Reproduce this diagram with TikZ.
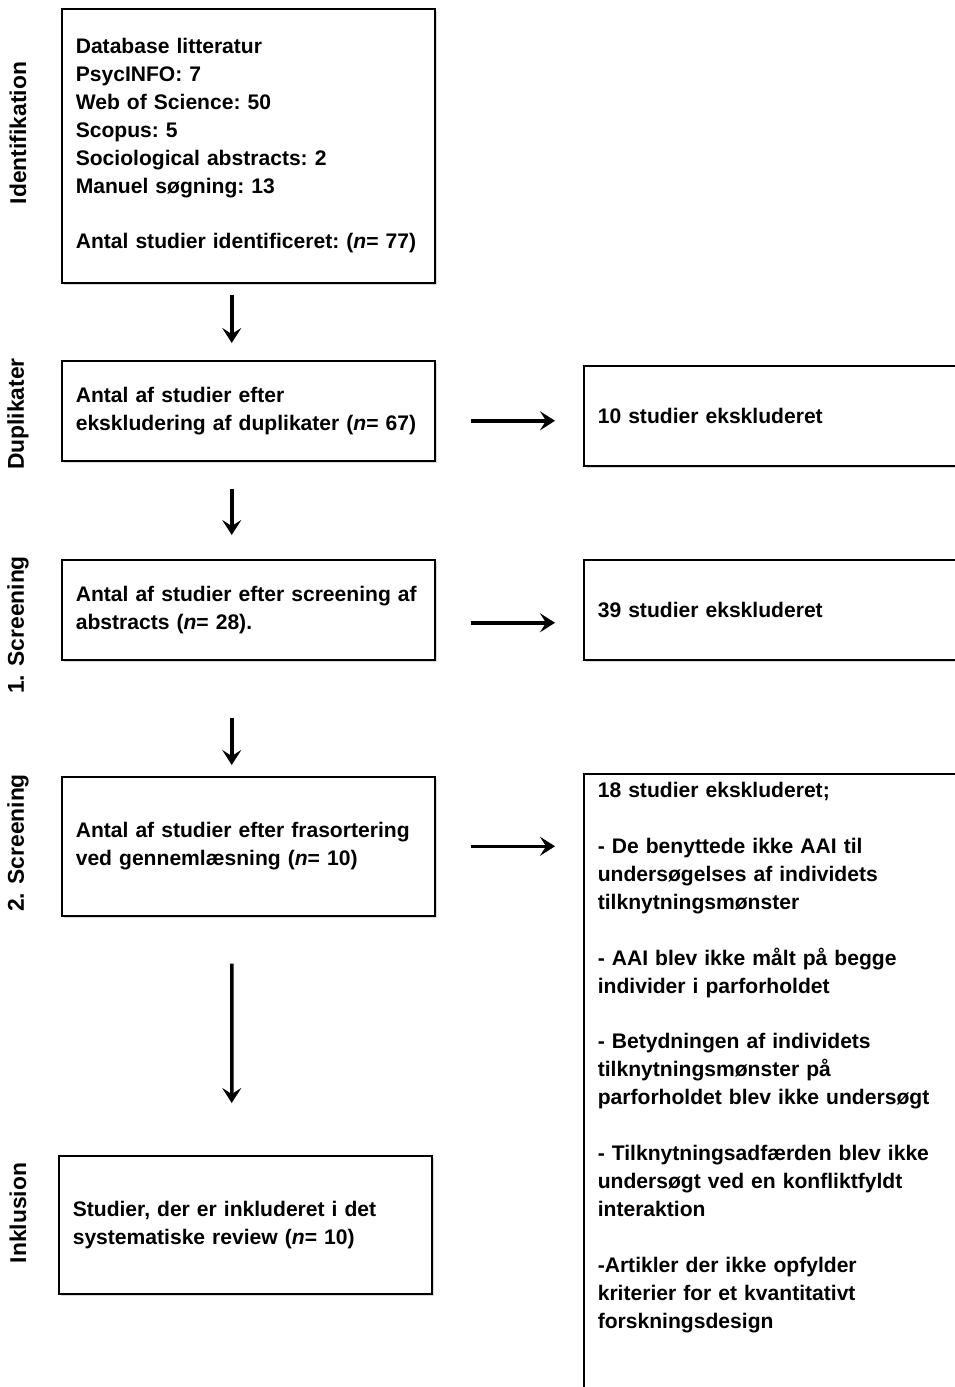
\documentclass[tikz,border=0pt]{standalone}
\usepackage{fontspec}
\setmainfont{Liberation Sans}
\usetikzlibrary{shadows,arrows.meta}

\tikzset{
  flowbox/.style={draw, line width=0.9pt, fill=white, align=left, anchor=north west,
    inner xsep=0.28cm, text width=6.9cm, font=\fontsize{12}{15.9}\selectfont\bfseries\frenchspacing,
    drop shadow={shadow xshift=1.2pt, shadow yshift=-1.2pt, opacity=0.3}},
  exbox/.style={flowbox, inner xsep=0.28cm, text width=7.4cm},
  phase/.style={rotate=90, font=\fontsize{13}{15}\selectfont\bfseries},
  arr/.style={-{Stealth[length=0.3cm, width=0.38cm, inset=0.12cm]}, line width=2pt},
}

\begin{document}
\begin{tikzpicture}[x=0.02cm, y=-0.02cm]
\useasboundingbox (0,0) rectangle (954,1387);

% phases
\node[phase] (lident) at (18,133) {Identifikation};
\node[phase] (ldup) at (18,414) {Duplikater};
\node[phase] (lscr1) at (18,625) {1. Screening};
\node[phase] (lscr2) at (18,843) {2. Screening};
\node[phase] (lincl) at (18,1213) {Inklusion};

% main column
\node[flowbox, minimum height=5.48cm] (ident) at (61,8) {Database litteratur\\ PsycINFO: 7\\ Web of Science: 50\\ Scopus: 5\\ Sociological abstracts: 2\\ Manuel søgning: 13\\[\baselineskip] Antal studier identificeret: (\textit{n}=~77)};
\node[flowbox, minimum height=2cm] (dup) at (61,360) {Antal af studier efter\\ ekskludering af duplikater (\textit{n}= 67)};
\node[flowbox, minimum height=2cm] (scr1) at (61,559) {Antal af studier efter screening af\\ abstracts (\textit{n}= 28).};
\node[flowbox, minimum height=2.78cm] (scr2) at (61,776) {Antal af studier efter frasortering\\ ved gennemlæsning (\textit{n}= 10)};
\node[flowbox, minimum height=2.76cm] (incl) at (58,1155) {Studier, der er inkluderet i det\\ systematiske review (\textit{n}= 10)};

% excluded
\node[exbox, minimum height=2cm] (ex1) at (583,365) {10 studier ekskluderet};
\node[exbox, minimum height=2cm] (ex2) at (583,559) {39 studier ekskluderet};
\node[exbox, inner ysep=0.17cm, text depth=13cm] (ex3) at (583,773) {18 studier ekskluderet;\\[\baselineskip]
- De benyttede ikke AAI til\\ undersøgelses af individets\\ tilknytningsmønster\\[\baselineskip]
- AAI blev ikke målt på begge\\ individer i parforholdet\\[\baselineskip]
- Betydningen af individets\\ tilknytningsmønster på\\ parforholdet blev ikke undersøgt\\[\baselineskip]
- Tilknytningsadfærden blev ikke\\ undersøgt ved en konfliktfyldt\\ interaktion\\[\baselineskip]
-Artikler der ikke opfylder\\ kriterier for et kvantitativt\\ forskningsdesign};

% arrows down
\draw[arr, shorten <=0.22cm, shorten >=0.34cm] ([xshift=-0.33cm]ident.south) -- ([xshift=-0.33cm]dup.north);
\draw[arr, shorten <=0.54cm, shorten >=0.48cm] ([xshift=-0.33cm]dup.south) -- ([xshift=-0.33cm]scr1.north);
\draw[arr, shorten <=1.14cm, shorten >=0.22cm] ([xshift=-0.33cm]scr1.south) -- ([xshift=-0.33cm]scr2.north);
\draw[arr, shorten <=0.94cm, shorten >=1.04cm] ([xshift=-0.33cm]scr2.south) -- ([xshift=-0.27cm]incl.north);

% arrows right
\coordinate (a1) at ([yshift=-0.2cm]dup.east);
\coordinate (a2) at ([yshift=-0.26cm]scr1.east);
\coordinate (a3) at (scr2.east);
\draw[arr, shorten <=0.7cm, shorten >=0.56cm] (a1) -- (a1 -| ex1.west);
\draw[arr, shorten <=0.7cm, shorten >=0.56cm] (a2) -- (a2 -| ex2.west);
\draw[arr, shorten <=0.7cm, shorten >=0.56cm] (a3) -- (a3 -| ex3.west);
\end{tikzpicture}
\end{document}
